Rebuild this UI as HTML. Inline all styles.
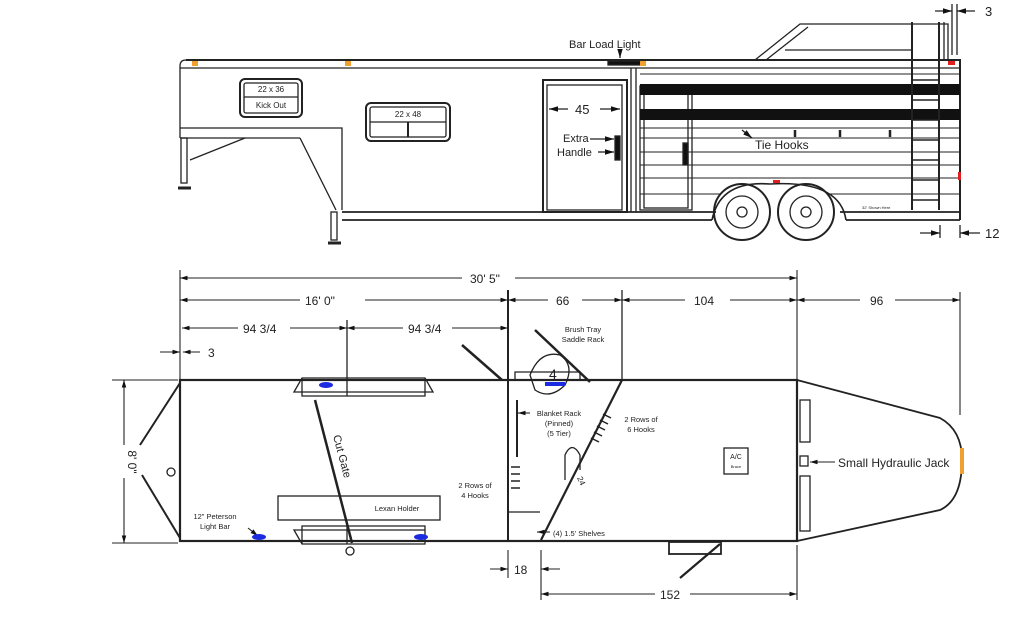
<!DOCTYPE html>
<html><head><meta charset="utf-8"><style>
html,body{margin:0;padding:0;background:#fff}
svg{display:block}
text{font-family:"Liberation Sans",sans-serif;fill:#222}
</style></head><body>
<svg width="1024" height="619" viewBox="0 0 1024 619" xmlns="http://www.w3.org/2000/svg">
<defs>
<marker id="a" viewBox="0 0 10 10" refX="10" refY="5" markerWidth="7" markerHeight="7" orient="auto-start-reverse"><path d="M0,2 L10,5 L0,8z" fill="#111"/></marker>
</defs>
<g stroke="#222" fill="none" stroke-width="1.3">
<!-- ===== SIDE VIEW ===== -->
<!-- cab -->
<path d="M755,60 L800,24 L948,24 L948,60"/>
<path d="M766,60 L808,27"/>
<line x1="785" y1="50" x2="912" y2="50"/>
<!-- roof -->
<path d="M186,60 L960,60 L960,220" stroke-width="2"/>
<path d="M186,60 Q180,60 180,66 L180,138"/>
<line x1="180" y1="68" x2="960" y2="68"/>
<!-- gooseneck -->
<path d="M180,128 L342,128 L342,210"/>
<line x1="180" y1="138" x2="300" y2="138"/>
<path d="M190,160 L245,138"/>
<path d="M300,138 L336,210"/>
<rect x="181" y="138" width="6" height="45"/>
<line x1="178" y1="188" x2="191" y2="188" stroke-width="3"/>
<rect x="331" y="212" width="6" height="28"/>
<line x1="328" y1="243" x2="341" y2="243" stroke-width="3"/>
<!-- floor -->
<path d="M342,212 L716,212 M840,212 L960,212" stroke-width="1.8"/>
<path d="M342,220 L712,220 M846,220 L960,220" stroke-width="1.8"/>
<!-- windows -->
<rect x="240" y="79" width="62" height="38" rx="5" stroke-width="2"/>
<rect x="244" y="83" width="54" height="30" rx="2"/>
<line x1="244" y1="97" x2="298" y2="97"/>
<rect x="366" y="103" width="84" height="38" rx="5" stroke-width="2"/>
<rect x="370" y="107" width="76" height="30" rx="2"/>
<line x1="370" y1="122" x2="446" y2="122"/>
<line x1="408" y1="122" x2="408" y2="137" stroke-width="2"/>
<!-- door -->
<rect x="543" y="80" width="84" height="132" stroke-width="2"/>
<rect x="547" y="85" width="75" height="125"/>
<line x1="631" y1="68" x2="631" y2="212"/>
<line x1="636" y1="68" x2="636" y2="212"/>
<!-- stock section -->
<rect x="640" y="86" width="52" height="124"/>
<rect x="644" y="90" width="44" height="118"/>
<g stroke-width="1">
<line x1="640" y1="128" x2="960" y2="128"/><line x1="640" y1="138" x2="960" y2="138"/>
<line x1="640" y1="152" x2="960" y2="152"/><line x1="640" y1="165" x2="960" y2="165"/>
<line x1="640" y1="178" x2="960" y2="178"/><line x1="640" y1="194" x2="720" y2="194"/>
<line x1="830" y1="194" x2="960" y2="194"/><line x1="640" y1="74" x2="960" y2="74"/>
</g>
<rect x="640" y="84" width="320" height="11" fill="#111" stroke="none"/>
<rect x="640" y="109" width="320" height="11" fill="#111" stroke="none"/>
<!-- ladder -->
<line x1="912" y1="22" x2="912" y2="210" stroke-width="2"/>
<line x1="939" y1="22" x2="939" y2="210" stroke-width="2"/>
<line x1="944" y1="22" x2="944" y2="60"/>
<g stroke-width="1.5"><line x1="912" y1="80" x2="939" y2="80"/><line x1="912" y1="100" x2="939" y2="100"/><line x1="912" y1="120" x2="939" y2="120"/><line x1="912" y1="140" x2="939" y2="140"/><line x1="912" y1="160" x2="939" y2="160"/><line x1="912" y1="180" x2="939" y2="180"/><line x1="912" y1="200" x2="939" y2="200"/></g>
<!-- handles -->
<rect x="615" y="136" width="5" height="24" fill="#111"/>
<rect x="683" y="143" width="5" height="22" fill="#111"/>
<!-- tie hooks -->
<g stroke-width="2.5"><line x1="795" y1="130" x2="795" y2="137"/><line x1="840" y1="130" x2="840" y2="137"/><line x1="890" y1="130" x2="890" y2="137"/></g>
<!-- fenders & wheels -->
<path d="M712,220 Q720,180 770,184 Q840,180 846,220" stroke-width="1.6"/>
<circle cx="742" cy="212" r="28" stroke-width="2"/><circle cx="742" cy="212" r="16"/><circle cx="742" cy="212" r="5"/>
<circle cx="806" cy="212" r="28" stroke-width="2"/><circle cx="806" cy="212" r="16"/><circle cx="806" cy="212" r="5"/>
<!-- side dims -->
<line x1="952" y1="4" x2="952" y2="55"/><line x1="957" y1="4" x2="957" y2="55"/>
<line x1="935" y1="11" x2="952" y2="11" marker-end="url(#a)"/><line x1="975" y1="11" x2="957" y2="11" marker-end="url(#a)"/>
<line x1="940" y1="225" x2="940" y2="238"/><line x1="960" y1="225" x2="960" y2="238"/>
<line x1="920" y1="233" x2="940" y2="233" marker-end="url(#a)"/><line x1="980" y1="233" x2="960" y2="233" marker-end="url(#a)"/>
<line x1="549" y1="109" x2="568" y2="109" marker-start="url(#a)"/><line x1="600" y1="109" x2="620" y2="109" marker-end="url(#a)"/>
<line x1="590" y1="139" x2="614" y2="139" marker-end="url(#a)"/><line x1="598" y1="152" x2="614" y2="152" marker-end="url(#a)"/>
<line x1="742" y1="130" x2="752" y2="138" marker-end="url(#a)"/>
<rect x="608" y="61" width="34" height="4" fill="#111"/>
<line x1="620" y1="50" x2="620" y2="58" marker-end="url(#a)"/>

<!-- ===== PLAN VIEW ===== -->
<rect x="180" y="380" width="617" height="161" stroke-width="2.2"/>
<path d="M797,380 L940,418 Q962,430 962,460 Q962,500 940,510 L797,541" stroke-width="1.8"/>
<path d="M180,383 L140,445 M142,475 L180,538" stroke-width="2"/>
<circle cx="171" cy="472" r="4"/>
<!-- fenders plan -->
<path d="M294,392 L302,378 L425,378 L433,392 Z M302,378 L302,396 L425,396 L425,378"/>
<path d="M294,530 L302,544 L425,544 L425,530 Z M302,544 L302,526 L425,526 L425,544"/>
<line x1="347" y1="320" x2="347" y2="396"/><line x1="347" y1="526" x2="347" y2="544"/>
<circle cx="350" cy="551" r="4"/>
<!-- cut gate -->
<line x1="315" y1="400" x2="352" y2="543" stroke-width="2.5"/>
<rect x="278" y="496" width="162" height="24"/>
<!-- divider wall -->
<line x1="508" y1="290" x2="508" y2="541" stroke-width="2"/>
<line x1="517" y1="400" x2="517" y2="457" stroke-width="2"/>
<line x1="508" y1="512" x2="540" y2="512"/>
<line x1="462" y1="345" x2="502" y2="380" stroke-width="2.5"/>
<!-- slant wall -->
<line x1="622" y1="290" x2="622" y2="380"/>
<line x1="622" y1="380" x2="541" y2="540" stroke-width="2.2"/>
<path d="M565,480 L565,455 Q572,440 580,455 L580,470"/>
<!-- saddle rack -->
<path d="M515,380 L515,372 L580,372 L580,380"/>
<path d="M535,330 L590,382" stroke-width="2.5"/>
<path d="M530,375 Q540,350 560,355 Q575,365 565,385 Q550,400 535,390 Z"/>
<line x1="545" y1="384" x2="565" y2="384" stroke="#1a2be0" stroke-width="4"/>
<!-- hooks -->
<g stroke-width="1.5"><line x1="511" y1="467" x2="520" y2="467"/><line x1="511" y1="474" x2="520" y2="474"/><line x1="511" y1="481" x2="520" y2="481"/><line x1="511" y1="488" x2="520" y2="488"/>
<line x1="603" y1="414" x2="611" y2="418"/><line x1="600" y1="420" x2="608" y2="424"/><line x1="597" y1="426" x2="605" y2="430"/><line x1="594" y1="432" x2="602" y2="436"/><line x1="591" y1="438" x2="599" y2="442"/></g>
<!-- front boxes -->
<rect x="800" y="400" width="10" height="42"/><rect x="800" y="456" width="8" height="10"/><rect x="800" y="476" width="10" height="55"/>
<rect x="724" y="448" width="24" height="26"/>
<!-- step -->
<rect x="669" y="542" width="52" height="12" stroke-width="1.8"/>
<line x1="720" y1="544" x2="680" y2="578" stroke-width="2.2"/>
<!-- plan dims -->
<g stroke-width="1.1">
<line x1="180" y1="270" x2="180" y2="380"/><line x1="797" y1="270" x2="797" y2="380"/><line x1="960" y1="292" x2="960" y2="415"/>
<line x1="180" y1="278" x2="462" y2="278" marker-start="url(#a)"/><line x1="515" y1="278" x2="797" y2="278" marker-end="url(#a)"/>
<line x1="180" y1="300" x2="300" y2="300" marker-start="url(#a)"/><line x1="365" y1="300" x2="508" y2="300" marker-end="url(#a)"/>
<line x1="508" y1="300" x2="548" y2="300" marker-start="url(#a)"/><line x1="582" y1="300" x2="622" y2="300" marker-end="url(#a)"/>
<line x1="622" y1="300" x2="685" y2="300" marker-start="url(#a)"/><line x1="730" y1="300" x2="797" y2="300" marker-end="url(#a)"/>
<line x1="797" y1="300" x2="860" y2="300" marker-start="url(#a)"/><line x1="895" y1="300" x2="960" y2="300" marker-end="url(#a)"/>
<line x1="182" y1="328" x2="238" y2="328" marker-start="url(#a)"/><line x1="290" y1="328" x2="347" y2="328" marker-end="url(#a)"/>
<line x1="347" y1="328" x2="403" y2="328" marker-start="url(#a)"/><line x1="452" y1="328" x2="508" y2="328" marker-end="url(#a)"/>
<line x1="160" y1="352" x2="180" y2="352" marker-end="url(#a)"/><line x1="200" y1="352" x2="183" y2="352" marker-end="url(#a)"/>
<line x1="112" y1="380" x2="178" y2="380"/><line x1="112" y1="543" x2="178" y2="543"/>
<line x1="124" y1="380" x2="124" y2="445" marker-start="url(#a)"/><line x1="124" y1="478" x2="124" y2="543" marker-end="url(#a)"/>
<line x1="508" y1="550" x2="508" y2="578"/><line x1="541" y1="550" x2="541" y2="600"/>
<line x1="490" y1="569" x2="508" y2="569" marker-end="url(#a)"/><line x1="560" y1="569" x2="541" y2="569" marker-end="url(#a)"/>
<line x1="797" y1="545" x2="797" y2="600"/>
<line x1="541" y1="594" x2="655" y2="594" marker-start="url(#a)"/><line x1="690" y1="594" x2="797" y2="594" marker-end="url(#a)"/>
<line x1="835" y1="462" x2="810" y2="462" marker-end="url(#a)"/>
<line x1="530" y1="413" x2="518" y2="413" marker-end="url(#a)"/>
<line x1="248" y1="528" x2="258" y2="536" marker-end="url(#a)"/>
<line x1="550" y1="532" x2="537" y2="532" marker-end="url(#a)"/>
</g>
</g>
<!-- colored lights -->
<g fill="#f0a030"><rect x="192" y="61" width="6" height="5"/><rect x="345" y="61" width="6" height="5"/><rect x="640" y="61" width="6" height="5"/><rect x="960" y="448" width="4" height="26"/></g>
<g fill="#e02020"><rect x="948" y="61" width="7" height="4"/><rect x="958" y="172" width="3" height="8"/><rect x="773" y="180" width="7" height="3"/></g>
<g fill="#1a2be0"><ellipse cx="326" cy="385" rx="7" ry="3"/><ellipse cx="259" cy="537" rx="7" ry="3"/><ellipse cx="421" cy="537" rx="7" ry="3"/></g>
<!-- text -->
<g font-size="8">
<text x="271" y="92" text-anchor="middle">22 x 36</text><text x="271" y="108" text-anchor="middle">Kick Out</text>
<text x="408" y="117" text-anchor="middle">22 x 48</text>
</g>
<text x="569" y="48" font-size="11">Bar Load Light</text>
<text x="575" y="114" font-size="13">45</text>
<text x="563" y="142" font-size="11">Extra</text><text x="557" y="156" font-size="11">Handle</text>
<text x="755" y="149" font-size="12">Tie Hooks</text>
<text x="862" y="209" font-size="4">32' Shown Here</text>
<text x="985" y="16" font-size="13">3</text>
<text x="985" y="238" font-size="13">12</text>
<g font-size="12">
<text x="470" y="283">30' 5"</text>
<text x="305" y="305">16' 0"</text>
<text x="556" y="305">66</text>
<text x="694" y="305">104</text>
<text x="870" y="305">96</text>
<text x="243" y="333">94 3/4</text>
<text x="408" y="333">94 3/4</text>
<text x="208" y="357">3</text>
<text x="514" y="574">18</text>
<text x="660" y="599">152</text>
<text x="838" y="467">Small Hydraulic Jack</text>
</g>
<text x="128" y="462" font-size="12" transform="rotate(90 128 462)" text-anchor="middle">8' 0"</text>
<text x="333" y="436" font-size="11" transform="rotate(75 333 436)">Cut Gate</text>
<g font-size="7.5">
<text x="583" y="332" text-anchor="middle">Brush Tray</text><text x="583" y="342" text-anchor="middle">Saddle Rack</text>
<text x="559" y="416" text-anchor="middle">Blanket Rack</text><text x="559" y="426" text-anchor="middle">(Pinned)</text><text x="559" y="436" text-anchor="middle">(5 Tier)</text>
<text x="641" y="422" text-anchor="middle">2 Rows of</text><text x="641" y="432" text-anchor="middle">6 Hooks</text>
<text x="475" y="488" text-anchor="middle">2 Rows of</text><text x="475" y="498" text-anchor="middle">4 Hooks</text>
<text x="397" y="511" text-anchor="middle">Lexan Holder</text>
<text x="215" y="519" text-anchor="middle">12" Peterson</text><text x="215" y="529" text-anchor="middle">Light Bar</text>
<text x="553" y="536">(4) 1.5' Shelves</text>
</g>
<text x="736" y="459" font-size="7" text-anchor="middle">A/C</text>
<text x="736" y="468" font-size="4" text-anchor="middle">Brace</text>
<text x="549" y="379" font-size="14" fill="#666">4</text>
<text x="577" y="478" font-size="8" transform="rotate(65 577 478)">24</text>
</svg>
</body></html>
